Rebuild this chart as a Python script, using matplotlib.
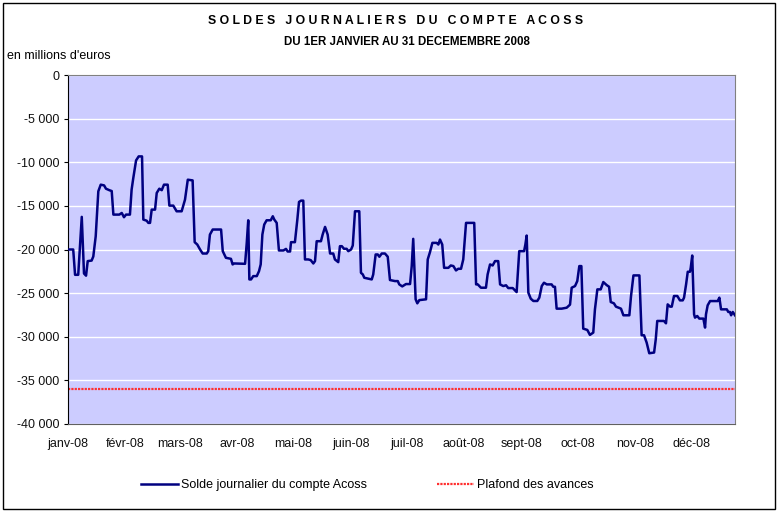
import matplotlib
matplotlib.use("Agg")
import matplotlib.pyplot as plt
from matplotlib.patches import Rectangle
from matplotlib.ticker import FuncFormatter

plt.rcParams["font.family"] = ["Liberation Sans", "DejaVu Sans"]

# jours depuis le 1er janvier 2008 et soldes (M EUR)
jours = [
    0, 2.8, 3.8, 5.5, 7.4, 8.6, 9.7, 10.6, 12.7, 13.6, 14.9, 16.3, 17.6, 19.4,
    20.4, 22.2, 23.5, 24.4, 27.6, 28.9, 30.1, 31.2, 33.3, 34.2, 35.1, 36.6,
    38.0, 39.8, 40.5, 42.3, 43.2, 44.1, 45.0, 46.8, 47.7, 49.1, 50.4, 51.6,
    53.6, 54.5, 56.6, 58.4, 61.1, 62.9, 64.4, 67.0, 68.1, 69.5, 71.0, 72.4,
    74.6, 75.4, 76.3, 77.8, 82.3, 83.2, 84.9, 87.6, 88.5, 89.4, 95.2, 96.1,
    96.9, 97.5, 98.4, 99.6, 101.5, 102.7, 103.6, 104.5, 105.5, 106.8, 109.0,
    110.1, 110.9, 112.2, 113.4, 115.8, 117.2, 118.1, 119.4, 119.9, 122.0,
    123.3, 124.2, 125.3, 126.5, 127.4, 129.2, 130.5, 131.9, 132.8, 133.7,
    136.0, 136.9, 138.2, 139.6, 140.9, 142.6, 143.5, 145.3, 146.2, 147.2,
    148.4, 149.8, 150.7, 152.2, 153.1, 154.3, 156.6, 157.5, 158.5, 159.3,
    163.3, 164.1, 165.4, 166.5, 167.4, 168.7, 170.4, 171.9, 173.1, 175.8,
    177.3, 178.1, 179.7, 181.7, 183.9, 184.8, 185.6, 186.9, 187.8, 188.9,
    192.5, 193.4, 194.6, 195.9, 198.2, 199.1, 200.0, 201.2, 202.2, 204.5,
    205.8, 207.2, 208.6, 209.8, 211.3, 212.5, 214.0, 218.4, 219.4, 220.3,
    222.0, 224.7, 225.6, 226.9, 228.3, 229.6, 231.3, 232.3, 234.0, 235.5,
    236.7, 239.1, 241.2, 242.6, 245.2, 245.9, 246.6, 247.5, 248.8, 250.2,
    252.3, 253.4, 254.7, 255.9, 257.4, 260.0, 260.9, 261.8, 262.7, 265.4,
    268.1, 269.9, 270.8, 272.6, 273.8, 274.9, 276.0, 277.0, 279.2, 280.6,
    282.4, 283.3, 284.6, 286.4, 287.8, 289.6, 290.9, 291.8, 293.5, 294.6,
    297.3, 298.6, 301.8, 302.7, 304.0, 307.2, 308.4, 309.7, 311.1, 312.5,
    315.1, 316.0, 316.8, 320.4, 321.5, 322.4, 323.7, 324.6, 325.8, 327.6,
    329.0, 330.5, 331.2, 332.3, 333.2, 334.4, 334.8, 335.6, 336.6, 337.1,
    338.3, 339.4, 341.6, 342.5, 343.0, 343.9, 345.2, 349.3, 350.2, 351.1,
    354.2, 355.0, 355.9, 356.5, 357.4, 358.6,
]
soldes = [
    -20000, -20000, -22900, -22900, -16260, -22750, -23000, -21330, -21270,
    -20800, -18480, -13330, -12570, -12650, -13030, -13200, -13300, -16000,
    -16000, -15810, -16300, -16000, -16000, -13140, -11810, -9790, -9330,
    -9330, -16570, -16700, -16950, -16950, -15430, -15430, -13520, -13030,
    -13200, -12570, -12570, -14970, -14970, -15620, -15620, -14290, -12000,
    -12080, -19160, -19430, -20000, -20460, -20460, -20190, -18290, -17710,
    -17710, -20190, -20950, -21070, -21710, -21600, -21640, -19240, -16650,
    -23430, -23430, -23050, -23050, -22480, -21710, -18290, -17140, -16650,
    -16650, -16190, -16570, -16950, -20110, -20110, -19930, -20230, -20230,
    -19160, -19160, -16570, -14550, -14400, -14400, -21140, -21140, -21220,
    -21600, -21330, -19050, -19050, -18290, -17410, -18290, -20460, -20460,
    -21140, -21450, -19620, -19620, -19920, -19920, -20190, -20000, -19540,
    -15620, -15620, -22670, -22860, -23240, -23430, -22860, -20570, -20570,
    -20830, -20460, -20460, -20830, -23500, -23620, -23620, -24000, -24230,
    -23960, -23960, -21900, -18780, -25710, -26170, -25800, -25710, -21140,
    -20310, -19240, -19240, -19430, -18860, -19430, -22100, -22100, -21830,
    -21900, -22400, -22210, -22210, -21140, -16950, -16950, -24000, -24000,
    -24380, -24380, -22860, -21710, -21830, -21330, -21330, -24000, -24190,
    -24100, -24420, -24420, -24880, -20190, -20190, -19430, -18400, -24950,
    -25640, -25900, -25900, -25520, -24190, -23810, -24000, -24000, -24270,
    -24270, -26780, -26780, -26670, -26320, -24380, -24190, -23620, -21900,
    -21900, -29070, -29220, -29790, -29520, -26860, -24570, -24570, -23730,
    -24080, -24270, -26020, -26170, -26550, -26780, -27540, -27540, -25330,
    -22970, -22970, -29830, -29830, -30670, -31890, -31810, -30290, -28190,
    -28190, -28460, -26290, -26550, -26550, -25330, -25330, -25830, -25830,
    -25520, -24000, -22550, -22550, -22100, -20690, -27430, -27810, -27620,
    -27920, -27920, -28950, -27430, -26400, -25910, -25910, -25520, -26860,
    -26860, -27160, -27160, -27540, -27160, -27540,
]
plafond = -36000

mois_pos = [0, 31, 60, 91, 121, 152, 182, 213, 244, 274, 305, 335]
mois_lbl = ["janv-08", "févr-08", "mars-08", "avr-08", "mai-08", "juin-08",
            "juil-08", "août-08", "sept-08", "oct-08", "nov-08", "déc-08"]

fig = plt.figure(figsize=(7.78, 5.12), dpi=100)
ax = fig.add_axes([68 / 778, 1 - 424 / 512, (735 - 68) / 778, (424 - 75) / 512])
ax.set_facecolor("#CCCCFF")

ax.plot(jours, soldes, color="#000080", lw=1.8, label="Solde journalier du compte Acoss", zorder=3)
ax.axhline(plafond, color="#FF3030", lw=1.6, ls=(0, (1, 0.5)), label="Plafond des avances", zorder=2)

ax.set_xlim(0, 358.6)
ax.set_ylim(-40000, 0)
ax.set_yticks(range(-40000, 1, 5000))
ax.yaxis.set_major_formatter(FuncFormatter(lambda v, p: f"{int(v):,}".replace(",", " ")))
ax.set_xticks(mois_pos)
ax.set_xticklabels(mois_lbl)
ax.grid(axis="y", color="white", lw=1)
ax.set_axisbelow(True)

ax.tick_params(axis="both", labelsize=9, length=3, color="black", labelcolor="#111111")
ax.tick_params(axis="x", length=0, pad=10)
ax.tick_params(axis="y", pad=3)
for s in ["top", "right"]:
    ax.spines[s].set_color("#808080")
    ax.spines[s].set_linewidth(0.8)
ax.spines["left"].set_color("black")
ax.spines["bottom"].set_color("#606060")

fig.text(396 / 778, 1 - 21 / 512, "S O L D E S   J O U R N A L I E R S   D U   C O M P T E   A C O S S",
         ha="center", va="center", fontsize=8.8, fontweight="bold")
fig.text(407 / 778, 1 - 42 / 512, "DU 1ER JANVIER AU 31 DECEMEMBRE 2008",
         ha="center", va="center", fontsize=8.3, fontweight="bold")
fig.text(7 / 778, 1 - 56 / 512, "en millions d'euros", ha="left", va="center", fontsize=9)

fig.legend(loc="center", bbox_to_anchor=(367 / 778, 1 - 485 / 512), ncol=2, frameon=False,
           fontsize=9, handlelength=3.0, handletextpad=0.2, columnspacing=5.6)

fig.patches.append(Rectangle((3 / 778, 3 / 512), 772 / 778, 506 / 512, transform=fig.transFigure,
                             fill=False, edgecolor="black", lw=1))

fig.savefig("out.png", dpi=100)
